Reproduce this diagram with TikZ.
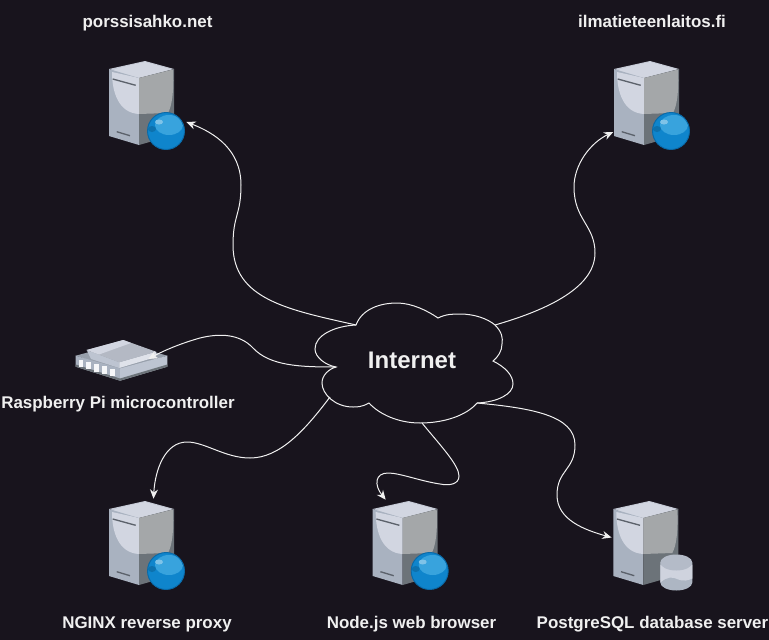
\documentclass[tikz,border=0pt]{standalone}
\usepackage{fontspec}
\setmainfont{Liberation Sans}
\usepackage{tikz}
\usetikzlibrary{arrows.meta, calc}
\definecolor{pageDark}{HTML}{18141D}
\definecolor{lineLight}{HTML}{F0F0F0}
\definecolor{srvTop}{HTML}{C4C9D5}
\definecolor{srvLight}{HTML}{D2D6E1}
\definecolor{srvLeft}{HTML}{A9B2C0}
\definecolor{srvShade}{HTML}{A4A7A9}
\definecolor{srvDark}{HTML}{6C7379}
\definecolor{srvSlot}{HTML}{5C626B}
\definecolor{globeEdge}{HTML}{0A6AA8}
\definecolor{globeBlue}{HTML}{0F85CC}
\definecolor{globeSoft}{HTML}{38A3DD}
\definecolor{globeSpot}{HTML}{7FC3E8}
\newcommand{\serverbody}[3]{%
  \begin{scope}[shift={(#2,#3)}]
    \node[iconbox] (#1) at (39,44.5) {};
    \fill[srvTop] (36,0) -- (65,8) -- (30,17) -- (0,8) -- cycle;
    \fill[srvLight] (36,1) -- (63,8.5) -- (30,17) -- (3,11) .. controls (4,8) and (8,7) .. cycle;
    \fill[srvLeft] (0,8) -- (30,17) -- (30,84) -- (0,75) -- cycle;
    \fill[srvDark] (65,8) -- (30,17) -- (30,84) -- (65,74) -- cycle;
    \fill[srvLight] (3,11) -- (30,17) -- (30,53) .. controls (10,52) and (3,32) .. cycle;
    \fill[srvShade] (30,17) -- (64,8.5) .. controls (65,30) and (63,45) .. (59,52) -- (30,53) -- cycle;
    \draw[srvSlot, line width=1pt] (3.7,18) -- (26.7,24.3);
    \draw[srvSlot, line width=1pt] (7.7,70.7) -- (21,74.7);
  \end{scope}
}
\newcommand{\globeicon}[2]{%
  \begin{scope}[shift={(#1+57,#2+70)}]
    \fill[globeBlue] (0,0) circle [radius=18.5];
    \begin{scope}
      \clip (0,0) circle [radius=18];
      \fill[globeSoft] (3,-6) ellipse (14 and 10);
      \fill[globeBlue!85!black] (-14,-2) ellipse (4 and 3);
    \end{scope}
    \fill[globeSpot] (-7,-9) ellipse (4 and 2.5);
    \draw[globeEdge, line width=0.7pt] (0,0) circle [radius=18.5];
  \end{scope}
}
\newcommand{\dbicon}[2]{%
  \begin{scope}[shift={(#1+63,#2+61.5)}]
    \fill[srvLeft!85!srvTop] (-16,0) -- (-16,20) arc [start angle=180, end angle=0, x radius=16, y radius=8] -- (16,0) -- cycle;
    \fill[srvLight!75!srvTop] (-16,2) -- (-16,20) .. controls (-9,14) and (-4,14) .. (2,17) .. controls (7,19) and (12,18) .. (16,16) -- (16,2) -- cycle;
    \fill[srvLeft!60!srvTop] (0,0) ellipse (16 and 8);
  \end{scope}
}
\begin{document}
\begin{tikzpicture}[x=0.75pt, y=-0.75pt,
  iconbox/.style={inner sep=0pt, minimum width=59.25pt, minimum height=66.75pt},
  title/.style={font=\bfseries\fontsize{12.7}{14}\selectfont, text=lineLight, inner sep=0pt, anchor=base},
  link/.style={draw=lineLight, line width=0.75pt, -{Stealth[length=7pt, width=6pt]}}]
  \fill[pageDark] (0,0) rectangle (769,640);
  \useasboundingbox (0,0) rectangle (769,640);

  % icons
  \serverbody{porssi}{109}{61}
  \globeicon{109}{61}
  \serverbody{ilmatiede}{614}{61}
  \globeicon{614}{61}
  \serverbody{nginx}{109}{501}
  \globeicon{109}{501}
  \serverbody{nodejs}{372.7}{501}
  \globeicon{372.7}{501}
  \serverbody{postgres}{613.3}{501}
  \dbicon{613.3}{501}

  % raspberry
  \node[inner sep=0pt, minimum width=69.75pt, minimum height=30.75pt] (rasp) at (121.5,360.5) {};
  \begin{scope}[shift={(75,340)}]
    \fill[srvLeft!70!srvDark] (0.7,15.7) -- (48,3) -- (92.3,15.7) -- (45,30) -- cycle;
    \fill[srvLeft] (0.7,15.7) -- (45,28.5) -- (45,40.7) -- (0.7,26.7) -- cycle;
    \fill[srvDark] (0.7,24.5) -- (45,38.5) -- (45,40.7) -- (0.7,26.7) -- cycle;
    \fill[srvLeft!50!srvLight] (45,28.5) -- (92.3,15.7) -- (92.3,26.7) -- (45,40.7) -- cycle;
    \fill[srvDark] (45,38.5) -- (92.3,24.5) -- (92.3,26.7) -- (45,40.7) -- cycle;
    \fill[srvLeft!50!srvLight] (11.7,10) -- (44.3,22.3) -- (44.3,28) -- (16,19) -- cycle;
    \fill[srvLight!70!white] (44.3,22.3) -- (81,11.7) -- (81,17) -- (44.3,28) -- cycle;
    \fill[srvTop!92!black] (11.7,10) -- (48.3,0) -- (81,11.7) -- (44.3,22.3) -- cycle;
    \fill[srvLight] (11.7,10) -- (48.3,0) -- (56,3) -- (24,14.5) -- cycle;
    \foreach \px in {0,1,2,3,4}
      \fill[white!90!srvLeft] (\px*7.8+3.6,\px*2.25+19.7) rectangle ++(4.7,7.3);
  \end{scope}

  % cloud
  \draw[lineLight, line width=0.75pt, fill=pageDark]
    (356,325) .. controls (362,309) and (380,303) .. (397,303)
    .. controls (412,303) and (428,311) .. (438,318)
    .. controls (446,314) and (453,314) .. (460,314)
    .. controls (475,314) and (488,319) .. (495,325)
    .. controls (502,332) and (503,338) .. (502,344)
    .. controls (502,351) and (498,357) .. (493,361)
    .. controls (505,367) and (513,375) .. (513,384)
    .. controls (513,394) and (498,402) .. (477,403)
    .. controls (467,415) and (445,423) .. (420,423)
    .. controls (398,423) and (379,414) .. (369,403)
    .. controls (362,407) and (357,407) .. (353,407)
    .. controls (335,407) and (322,394) .. (322,383)
    .. controls (322,375) and (329,369) .. (336,367)
    .. controls (325,365) and (315,357) .. (315,349)
    .. controls (315,335) and (335,326) .. (356,325) -- cycle;
  \node[font=\bfseries\fontsize{18}{20}\selectfont, text=lineLight, inner sep=0pt] (inet) at (412,360) {Internet};

  % cloud ports
  \coordinate (inetNW) at ($(inet)+(-56,-35)$);
  \coordinate (inetNE) at ($(inet)+(83,-35)$);
  \coordinate (inetW) at ($(inet)+(-76,7)$);
  \coordinate (inetSW) at ($(inet)+(-82,37)$);
  \coordinate (inetS) at ($(inet)+(10,63)$);
  \coordinate (inetSE) at ($(inet)+(65,43)$);

  % links
  \draw[link] (inetNW) .. controls (290,310) and (233,300) .. (233,245)
    .. controls (233,215) and (241,215) .. (241,185)
    .. controls (241,150) and (215,133) .. ($(porssi.east)+(-1.5,16.5)$);
  \draw[link] (inetNE) .. controls (540,312) and (595,290) .. (595,253)
    .. controls (595,225) and (574,220) .. (574,187)
    .. controls (574,165) and (590,143) .. ($(ilmatiede.west)+(0,26.5)$);
  \draw[link] (inetW) .. controls (300,367) and (270,366) .. (253,348)
    .. controls (240,334) and (220,333) .. (200,338)
    .. controls (182,343) and (165,350) .. ($(rasp.east)+(-20,-1.5)$);
  \draw[link] (inetSW) .. controls (305,430) and (280,458) .. (250,458)
    .. controls (225,458) and (205,442) .. (187,442)
    .. controls (165,442) and (155,470) .. ($(nginx.north)+(5.5,-2)$);
  \draw[link] (inetS) .. controls (440,445) and (459,465) .. (459,476)
    .. controls (459,484) and (450,486) .. (440,484)
    .. controls (420,481) and (400,473) .. (388,473)
    .. controls (375,473) and (374,485) .. ($(nodejs.north)+(-26,-1)$);
  \draw[link] (inetSE) .. controls (530,408) and (575,415) .. (575,445)
    .. controls (575,470) and (557,470) .. (557,495)
    .. controls (557,520) and (585,530) .. ($(postgres.west)+(-1,-8)$);

  % labels
  \node[title] (labPorssi) at (147.5,27.5) {porssisahko.net};
  \node[title] (labIlma) at (652,27.5) {ilmatieteenlaitos.fi};
  \node[title] (labRasp) at (118,408) {Raspberry Pi microcontroller};
  \node[title] (labNginx) at (147,628) {NGINX reverse proxy};
  \node[title] (labNode) at (411.5,628) {Node.js web browser};
  \node[title] (labPg) at (652.5,628) {PostgreSQL database server};
\end{tikzpicture}
\end{document}
